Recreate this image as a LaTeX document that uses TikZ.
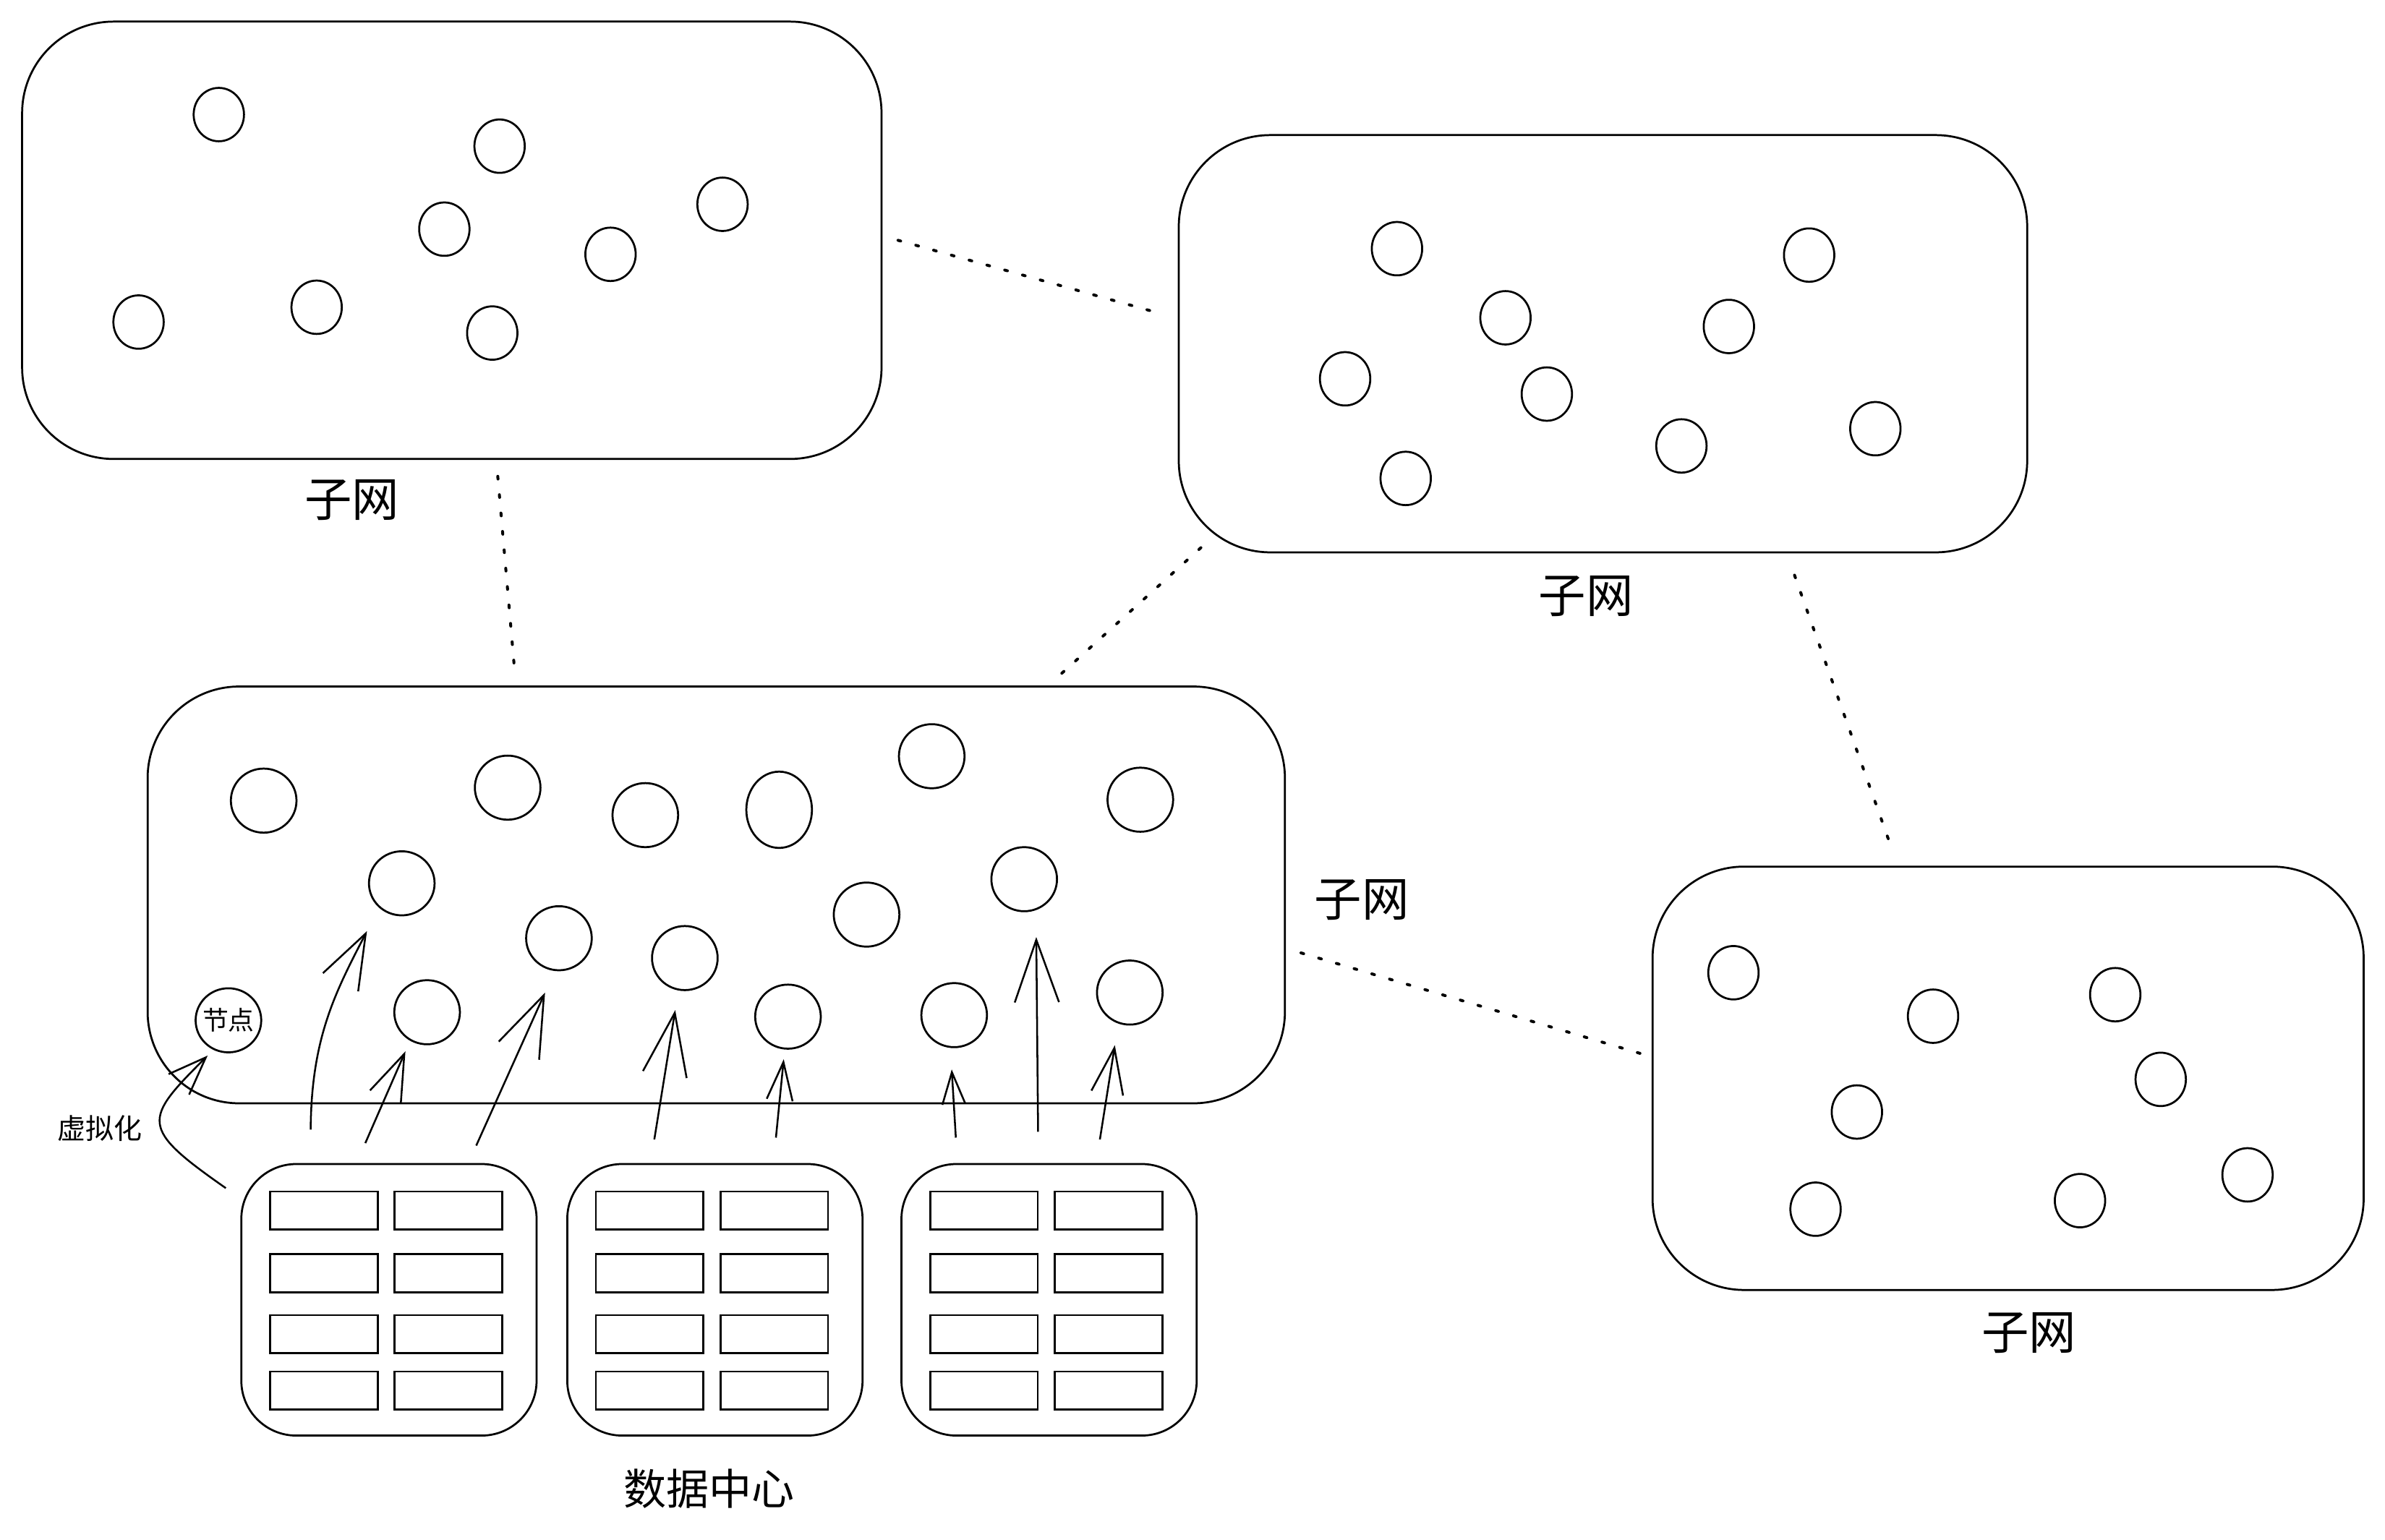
\documentclass[tikz,border=0pt]{standalone}
\usepackage{fontspec}
\setmainfont{Noto Sans CJK SC}
\usetikzlibrary{shapes.geometric,arrows.meta}
\begin{document}
\begin{tikzpicture}[x=1pt,y=-1pt,
  subnet/.style={draw, line width=1.3pt, rounded corners=60pt, inner sep=0pt},
  host/.style={draw, ellipse, line width=1.3pt, inner sep=0pt, minimum width=33pt, minimum height=35pt},
  bighost/.style={host, minimum width=43pt, minimum height=42pt},
  dcbox/.style={draw, line width=1.3pt, rounded corners=36pt, inner sep=0pt, minimum width=193.5pt, minimum height=178pt},
  server/.style={draw, line width=1.3pt, inner sep=0pt, minimum width=70.5pt, minimum height=25pt},
  link/.style={line width=1.9pt, line cap=round, dash pattern=on 1.8pt off 10.3pt},
  varrow/.style={line width=1.2pt},
  biglabel/.style={inner sep=0pt, font=\fontsize{31}{36}\selectfont},
  dclabel/.style={inner sep=0pt, font=\fontsize{28}{34}\selectfont}
]
\useasboundingbox (0,0) rectangle (1563,1009.4);

% ---------- subnets ----------
\node[subnet, minimum width=563.2pt, minimum height=286.7pt] (s1) at (296.1,157.5) {};
\node[subnet, minimum width=556pt, minimum height=273.5pt] (s2) at (1050.5,225.3) {};
\node[subnet, minimum width=745.3pt, minimum height=273.2pt] (s3) at (469.4,586.6) {};
\node[subnet, minimum width=466pt, minimum height=277.5pt] (s4) at (1316,706.8) {};

\node[biglabel] (l1) at (230.6,327.8) {子网};
\node[biglabel] (l2) at (1039.4,391) {子网};
\node[biglabel] (l3) at (892.5,590) {子网};
\node[biglabel] (l4) at (1329.6,873.8) {子网};

% ---------- hosts of subnet 1 ----------
\node[host] (h1a) at (143.4,75.1) {};
\node[host] (h1b) at (327.4,95.8) {};
\node[host] (h1c) at (291.2,150.2) {};
\node[host] (h1d) at (473.5,133.9) {};
\node[host] (h1e) at (400.1,166.7) {};
\node[host] (h1f) at (90.8,211.1) {};
\node[host] (h1g) at (207.5,201.4) {};
\node[host] (h1h) at (322.6,218.3) {};

% ---------- hosts of subnet 2 ----------
\node[host] (h2a) at (915.5,163) {};
\node[host] (h2b) at (1185.6,167.2) {};
\node[host] (h2c) at (986.6,208.3) {};
\node[host] (h2d) at (1133,214) {};
\node[host] (h2e) at (881.5,248.3) {};
\node[host] (h2f) at (1013.7,258.3) {};
\node[host] (h2g) at (1229,281) {};
\node[host] (h2h) at (1101.9,292.3) {};
\node[host] (h2i) at (921.2,313.6) {};

% ---------- hosts of subnet 3 ----------
\node[bighost] (h3a) at (172.8,524.8) {};
\node[bighost] (h3b) at (332.7,516.3) {};
\node[bighost] (h3c) at (422.9,534.3) {};
\node[bighost, minimum height=50pt] (h3d) at (510.6,530.8) {};
\node[bighost] (h3e) at (610.6,495.7) {};
\node[bighost] (h3f) at (747.3,524.2) {};
\node[bighost] (h3g) at (263.3,579) {};
\node[bighost] (h3h) at (366.3,615) {};
\node[bighost] (h3i) at (448.8,628) {};
\node[bighost] (h3j) at (567.9,599.5) {};
\node[bighost] (h3k) at (671.2,576.3) {};
\node[bighost] (h3l) at (279.9,663.5) {};
\node[bighost] (h3m) at (516.4,666.4) {};
\node[bighost] (h3n) at (625.3,665.4) {};
\node[bighost] (h3o) at (740.4,650.6) {};
\node[bighost] (node) at (149.7,668.8) {};
\node[inner sep=0pt, font=\fontsize{17}{20}\selectfont] (nodetext) at (node.center) {节点};

% ---------- hosts of subnet 4 ----------
\node[host] (h4a) at (1136,637.6) {};
\node[host] (h4b) at (1266.8,666.1) {};
\node[host] (h4c) at (1386.2,652) {};
\node[host] (h4d) at (1416,707.5) {};
\node[host] (h4e) at (1216.9,728.9) {};
\node[host] (h4f) at (1472.9,770.1) {};
\node[host] (h4g) at (1363.1,787) {};
\node[host] (h4h) at (1189.8,792.6) {};

% ---------- data centres ----------
\foreach \d/\cx in {1/254.9, 2/468.5, 3/687.5} {
  \node[dcbox] (dc\d) at (\cx,852) {};
  \foreach \r/\ry in {1/793.5, 2/834.5, 3/874.5, 4/911.5} {
    \node[server] (dc\d s\r a) at (\cx-42.7,\ry) {};
    \node[server] (dc\d s\r b) at (\cx+38.9,\ry) {};
  }
}
\node[dclabel] (ldc) at (464.8,975.8) {数据中心};
\node[inner sep=0pt, font=\fontsize{18.5}{22}\selectfont] (lvirt) at (65.4,739.7) {虚拟化};

% ---------- dotted links between subnets ----------
\coordinate (k1a) at (588.5,157.5);  \coordinate (k1b) at (763,206.2);
\coordinate (k2a) at (326.2,312.2);  \coordinate (k2b) at (337.2,438.9);
\coordinate (k3a) at (787,359);      \coordinate (k3b) at (695.2,441.9);
\coordinate (k4a) at (1176,377);     \coordinate (k4b) at (1238.8,553.6);
\coordinate (k5a) at (852.6,624.6);  \coordinate (k5b) at (1074.9,690.5);
\draw[link] (k1a) -- (k1b);
\draw[link] (k2a) -- (k2b);
\draw[link] (k3a) -- (k3b);
\draw[link] (k4a) -- (k4b);
\draw[link] (k5a) -- (k5b);

% ---------- virtualisation arrows ----------
\coordinate (aV0) at (148,778.8);   \coordinate (aV1) at (136.1,691.9);
\coordinate (aA0) at (203.6,740.4); \coordinate (aA1) at (240.5,610.3);
\coordinate (aB0) at (239.4,749.3); \coordinate (aB1) at (265.7,689.1);
\coordinate (aC0) at (312.1,750.9); \coordinate (aC1) at (357.2,650.6);
\coordinate (aD0) at (428.8,746.9); \coordinate (aD1) at (442.5,662.1);
\coordinate (aE0) at (508.5,745.7); \coordinate (aE1) at (513.6,694.3);
\coordinate (aF0) at (626.4,745.7); \coordinate (aF1) at (623.7,701);
\coordinate (aG0) at (680.3,741.9); \coordinate (aG1) at (679.1,614.2);
\coordinate (aH0) at (720.8,746.9); \coordinate (aH1) at (730.6,685.1);

\draw[varrow, -{Straight Barb[length=25pt,width=19pt]}] (aV0) .. controls (91,739) and (94,734) .. (aV1);
\draw[varrow, -{Straight Barb[length=36pt,width=26pt]}] (aA0) .. controls (204,680) and (220,650) .. (aA1);
\draw[varrow, -{Straight Barb[length=31pt,width=22pt]}] (aB0) -- (aB1);
\draw[varrow, -{Straight Barb[length=40pt,width=29pt]}] (aC0) -- (aC1);
\draw[varrow, -{Straight Barb[length=41pt,width=29pt]}] (aD0) -- (aD1);
\draw[varrow, -{Straight Barb[length=25pt,width=17pt]}] (aE0) -- (aE1);
\draw[varrow, -{Straight Barb[length=21pt,width=15pt]}] (aF0) -- (aF1);
\draw[varrow, -{Straight Barb[length=41pt,width=29pt]}] (aG0) -- (aG1);
\draw[varrow, -{Straight Barb[length=30pt,width=21pt]}] (aH0) -- (aH1);
\end{tikzpicture}
\end{document}
